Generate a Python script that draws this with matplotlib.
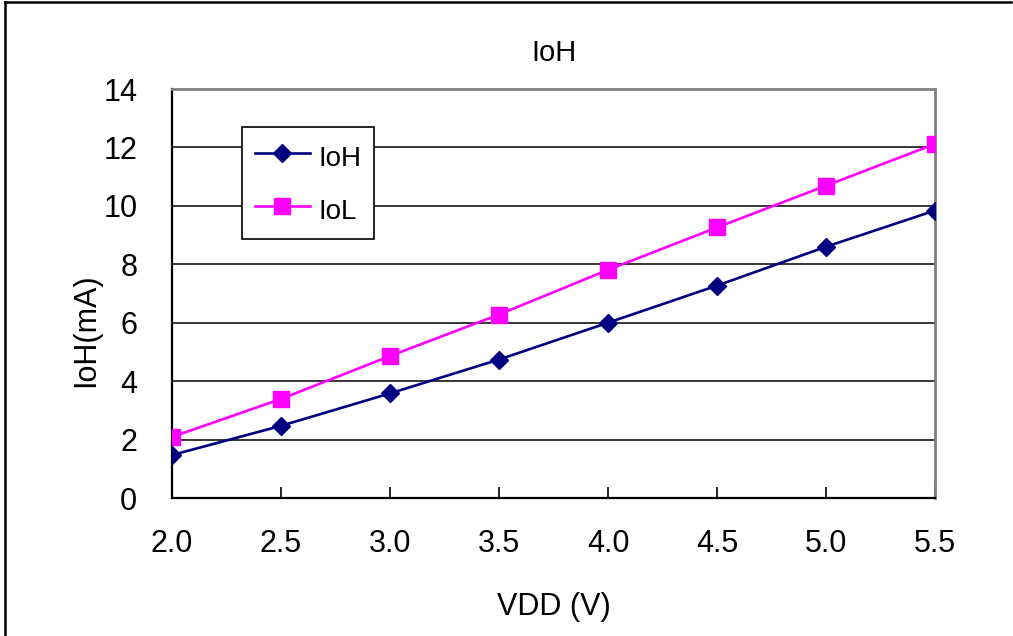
import matplotlib
matplotlib.use("Agg")
import matplotlib.pyplot as plt
from matplotlib.lines import Line2D

plt.rcParams["font.family"] = ["Liberation Sans", "DejaVu Sans"]

############################################################
# Data
############################################################

vdd = [2.0, 2.5, 3.0, 3.5, 4.0, 4.5, 5.0, 5.5]

ioh = [1.47, 2.47, 3.58, 4.74, 6.0, 7.27, 8.6, 9.84]

iol = [2.09, 3.39, 4.86, 6.28, 7.81, 9.26, 10.69, 12.12]

xticks = [2.0, 2.5, 3.0, 3.5, 4.0, 4.5, 5.0, 5.5]

yticks = [0, 2, 4, 6, 8, 10, 12, 14]

############################################################
# Figure
############################################################

fig = plt.figure(figsize=(10.13, 6.36), dpi=100)

ax = fig.add_axes([172 / 1013, 1 - 498 / 636, (935 - 172) / 1013, (498 - 89) / 636])

for y in yticks[1:]:
    ax.axhline(y, color="black", lw=1.1, zorder=1)

ax.plot(vdd, ioh, color="#000080", lw=1.9, marker="D", ms=9.5,
        label="IoH", zorder=3)

ax.plot(vdd, iol, color="#FF00FF", lw=1.9, marker="s", ms=11,
        label="IoL", zorder=3)

ax.set_xlim(2.0, 5.5)
ax.set_ylim(0, 14)
ax.set_xticks(xticks)
ax.set_xticklabels([f"{v:.1f}" for v in xticks])
ax.set_yticks(yticks)

ax.tick_params(axis="x", direction="in", length=8, width=1.2,
               labelsize=22, pad=22)
ax.tick_params(axis="y", direction="in", length=0,
               labelsize=22, pad=25)

for s in ("left", "bottom"):
    ax.spines[s].set_color("black")
    ax.spines[s].set_linewidth(1.6)
for s in ("top", "right"):
    ax.spines[s].set_color("#808080")
    ax.spines[s].set_linewidth(2.0)

for lbl in ax.get_xticklabels() + ax.get_yticklabels():
    lbl.set_clip_on(False)

ax.set_xlabel("VDD (V)", fontsize=22, labelpad=24)
ax.set_ylabel("IoH(mA)", fontsize=22)
ax.yaxis.set_label_coords(-0.093, 0.41)
ax.set_title("IoH", fontsize=21, pad=20)

leg = ax.legend(loc="upper left", bbox_to_anchor=(0.092, 0.907),
                borderaxespad=0, fontsize=20, frameon=True,
                fancybox=False, framealpha=1, edgecolor="black",
                handlelength=2.0, borderpad=0.45, labelspacing=0.7,
                handletextpad=0.3, handleheight=1.5)
leg.get_frame().set_linewidth(1.2)

# outer border (top and left only)
fig.add_artist(Line2D([5 / 1013, 1011 / 1013], [1 - 1.5 / 636, 1 - 1.5 / 636],
                      color="black", lw=1.8, transform=fig.transFigure))
fig.add_artist(Line2D([5 / 1013, 5 / 1013], [0, 1 - 1.5 / 636],
                      color="black", lw=1.8, transform=fig.transFigure))

fig.savefig("out.png", dpi=100)
